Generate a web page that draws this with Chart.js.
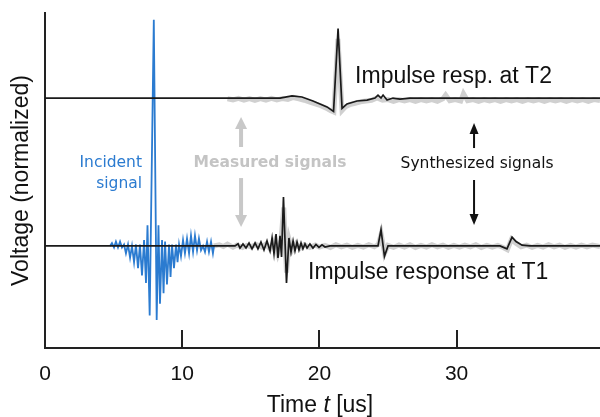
<!DOCTYPE html>
<html>
<head>
<meta charset="utf-8">
<script src="https://cdn.jsdelivr.net/npm/chart.js@4.4.1/dist/chart.umd.min.js"></script>
<style>
  html, body { margin: 0; padding: 0; background: #fff; }
  #wrap { width: 600px; height: 417px; position: relative; }
</style>
</head>
<body>
<div id="wrap"><canvas id="chart"></canvas></div>
<script>
// axis
var xTicks = [0, 10, 20, 30];
var xRange = [0, 40.45];
var yRange = [-0.69, 1.575];

// incident signal, sits on the T1 baseline  [time us, voltage]
var incidentSignal = [
  [4.74, 0], [4.88, 0.02], [5.03, -0.01], [5.17, 0.03], [5.32, -0.01], [5.47, 0.03],
  [5.61, -0.01], [5.76, 0.01], [5.9, -0.05], [6.05, 0.01], [6.2, -0.08], [6.34, 0],
  [6.49, -0.11], [6.63, 0.01], [6.78, -0.15], [6.92, 0.01], [7.07, -0.2], [7.22, 0.04],
  [7.36, -0.25], [7.47, 0.14], [7.63, -0.47], [7.93, 1.53], [8.14, -0.5], [8.27, 0.14],
  [8.38, -0.39], [8.53, 0.04], [8.64, -0.32], [8.75, 0.03], [8.89, -0.26], [9.04, 0.01],
  [9.15, -0.21], [9.26, 0.01], [9.4, -0.15], [9.55, 0.01], [9.66, -0.11], [9.77, 0.01],
  [9.91, -0.07], [10.06, 0.04], [10.2, -0.05], [10.35, 0.05], [10.5, -0.05], [10.64, 0.07],
  [10.79, -0.04], [10.93, 0.07], [11.08, -0.03], [11.22, 0.05], [11.37, -0.03], [11.52, 0],
  [11.66, -0.04], [11.81, 0.03], [11.95, -0.04], [12.1, 0.03], [12.24, -0.05], [12.32, 0]
];

// synthesized impulse response at T1
var synthT1 = [
  [0, 0], [13.85, 0], [14.07, 0.014], [14.21, -0.014], [14.43, 0.014], [14.65, -0.014],
  [14.87, 0.02], [15.09, -0.02], [15.31, 0.02], [15.52, -0.02], [15.74, 0.027], [15.96, -0.027],
  [16.18, 0.034], [16.4, -0.034], [16.55, 0.054], [16.69, -0.054], [16.84, 0.081], [16.98, -0.081],
  [17.13, 0.068], [17.24, -0.074], [17.38, 0.33], [17.6, -0.25], [17.78, 0.054], [17.93, -0.041],
  [18.08, 0.034], [18.22, -0.034], [18.37, 0.027], [18.51, -0.027], [18.66, 0.02], [18.8, -0.02],
  [18.95, 0.014], [19.1, -0.014], [19.31, 0.014], [19.53, -0.014], [19.75, 0.01], [19.97, -0.01],
  [20.19, 0.007], [20.41, -0.007], [20.77, 0], [24.27, 0], [24.49, 0.11], [24.74, -0.07],
  [25.0, 0], [33.16, 0], [33.67, -0.02], [34.04, 0.06], [34.33, 0.03], [34.77, 0.005],
  [35.35, 0], [40.45, 0]
];

// synthesized impulse response at T2 (offset by 1)
var synthT2 = [
  [0, 1], [17.13, 1], [18.0, 1.014], [18.73, 1.007], [19.53, 0.98], [20.55, 0.94],
  [21.03, 0.91], [21.36, 1.47], [21.65, 0.93], [22.01, 0.96], [22.74, 0.98], [23.47, 0.986],
  [24.05, 1.0], [24.27, 1.02], [24.49, 1.0], [24.64, 1.02], [24.93, 0.986], [25.36, 1.0],
  [25.87, 0.993], [26.6, 1.0], [40.45, 1.0]
];

// measured at T1 (gray)
var measT1 = [
  [12.3, 0], [12.7, 0.008], [13.0, -0.004], [13.3, 0.012], [13.7, -0.008], [14.0, 0.006],
  [14.4, -0.01], [14.7, 0.004], [15.0, -0.006], [15.4, 0.01], [15.8, -0.008], [16.1, 0.012],
  [16.4, -0.02], [16.7, 0.03], [16.95, -0.05], [17.2, 0.04], [17.4, 0.26], [17.6, -0.18],
  [17.8, 0.04], [18.0, -0.03], [18.3, 0.015], [18.6, -0.015], [18.9, 0.008], [19.3, -0.01],
  [19.7, 0.006], [20.0, -0.008], [20.4, 0.004], [20.8, -0.01], [21.2, 0.008], [21.6, -0.006],
  [22.0, 0.006], [22.4, -0.01], [22.8, 0.004], [23.2, -0.008], [23.6, 0.008], [24.0, -0.006],
  [24.3, 0.01], [24.5, 0.08], [24.75, -0.05], [25.0, 0.004], [25.4, -0.01], [25.8, 0.006],
  [26.2, -0.008], [26.6, 0.008], [27.0, -0.01], [27.4, 0.004], [27.8, -0.008], [28.2, 0.008],
  [28.6, -0.006], [29.0, 0.006], [29.4, -0.01], [29.8, 0.004], [30.2, -0.008], [30.6, 0.006],
  [31.0, -0.006], [31.4, 0.008], [31.8, -0.01], [32.2, 0.004], [32.6, -0.008], [33.0, 0.004],
  [33.4, -0.01], [33.7, -0.025], [34.0, 0.045], [34.3, 0.02], [34.7, -0.006], [35.1, 0.006],
  [35.5, -0.01], [35.9, 0.004], [36.3, -0.008], [36.7, 0.008], [37.1, -0.006], [37.5, 0.006],
  [37.9, -0.01], [38.3, 0.004], [38.7, -0.008], [39.1, 0.006], [39.5, -0.006], [39.9, 0.006],
  [40.45, -0.004]
];

// measured at T2 (gray)
var measT2 = [
  [13.3, 0.995], [13.7, 0.988], [14.1, 0.998], [14.5, 0.986], [14.9, 0.996], [15.3, 0.984],
  [15.7, 0.996], [16.1, 0.986], [16.5, 0.998], [16.9, 0.988], [17.3, 0.996], [17.7, 0.99],
  [18.1, 1.004], [18.5, 0.995], [18.9, 0.985], [19.3, 0.972], [19.7, 0.96], [20.1, 0.948],
  [20.5, 0.932], [20.8, 0.915], [21.05, 0.905], [21.35, 1.4], [21.65, 0.915], [21.9, 0.94],
  [22.2, 0.955], [22.6, 0.965], [23.0, 0.975], [23.4, 0.98], [23.8, 0.985], [24.2, 1.0],
  [24.6, 0.985], [25.0, 0.99], [25.4, 0.978], [25.8, 0.99], [26.2, 0.98], [26.6, 0.99],
  [27.0, 0.978], [27.4, 0.99], [27.8, 0.98], [28.2, 0.99], [28.6, 0.978], [29.0, 0.995],
  [29.2, 1.02], [29.5, 0.982], [29.9, 0.99], [30.3, 0.98], [30.5, 1.03], [30.8, 0.982],
  [31.2, 0.99], [31.6, 0.978], [32.0, 0.99], [32.4, 0.98], [32.8, 0.99], [33.2, 0.978],
  [33.6, 0.99], [34.0, 0.98], [34.4, 0.99], [34.8, 0.978], [35.2, 0.99], [35.6, 0.98],
  [36.0, 0.99], [36.4, 0.978], [36.8, 0.99], [37.2, 0.98], [37.6, 0.99], [38.0, 0.978],
  [38.4, 0.99], [38.8, 0.98], [39.2, 0.99], [39.6, 0.978], [40.0, 0.99], [40.45, 0.984]
];

function toPoints(arr) {
  var out = [];
  for (var i = 0; i < arr.length; i++) out.push({ x: arr[i][0], y: arr[i][1] });
  return out;
}

// text + arrows, placed in data units
var notes = [
  { text: "Impulse resp. at T2", t: 22.6, v: 1.142, align: "left", font: "23px 'Liberation Sans', Arial", color: "#111" },
  { text: "Impulse response at T1", t: 19.17, v: -0.182, align: "left", font: "23px 'Liberation Sans', Arial", color: "#111" },
  { text: "Synthesized signals", t: 31.49, v: 0.554, align: "center", font: "15.5px 'DejaVu Sans'", color: "#111" },
  { text: "Measured signals", t: 16.4, v: 0.561, align: "center", font: "bold 15.5px 'DejaVu Sans'", color: "#c4c4c4" },
  { text: "Incident", t: 7.07, v: 0.561, align: "right", font: "15.5px 'DejaVu Sans'", color: "#2b7bd0" },
  { text: "signal", t: 7.07, v: 0.419, align: "right", font: "15.5px 'DejaVu Sans'", color: "#2b7bd0" }
];
var arrows = [
  { t: 14.29, from: 0.669, to: 0.872, color: "#c8c8c8", w: 4, hw: 12, hl: 12 },
  { t: 14.29, from: 0.459, to: 0.128, color: "#c8c8c8", w: 4, hw: 12, hl: 12 },
  { t: 31.27, from: 0.662, to: 0.831, color: "#111", w: 2, hw: 9, hl: 11 },
  { t: 31.27, from: 0.446, to: 0.142, color: "#111", w: 2, hw: 9, hl: 11 }
];

var extras = {
  id: "extras",
  afterDatasetsDraw: function (chart) {
    var ctx = chart.ctx;
    var xs = chart.scales.x;
    var ys = chart.scales.y;
    var area = chart.chartArea;
    ctx.save();

    // inward ticks
    ctx.strokeStyle = "#222";
    ctx.lineWidth = 2;
    for (var i = 0; i < xTicks.length; i++) {
      if (xTicks[i] === 0) continue;
      var px = Math.round(xs.getPixelForValue(xTicks[i]));
      ctx.beginPath();
      ctx.moveTo(px, area.bottom);
      ctx.lineTo(px, area.bottom - 18);
      ctx.stroke();
    }

    // arrows
    for (var a = 0; a < arrows.length; a++) {
      var ar = arrows[a];
      var x = xs.getPixelForValue(ar.t);
      var y0 = ys.getPixelForValue(ar.from);
      var y1 = ys.getPixelForValue(ar.to);
      var dir = y1 < y0 ? -1 : 1;
      ctx.strokeStyle = ar.color;
      ctx.fillStyle = ar.color;
      ctx.lineWidth = ar.w;
      ctx.beginPath();
      ctx.moveTo(x, y0);
      ctx.lineTo(x, y1 - dir * ar.hl * 0.8);
      ctx.stroke();
      ctx.beginPath();
      ctx.moveTo(x, y1);
      ctx.lineTo(x - ar.hw / 2, y1 - dir * ar.hl);
      ctx.lineTo(x + ar.hw / 2, y1 - dir * ar.hl);
      ctx.closePath();
      ctx.fill();
    }

    // labels
    ctx.textBaseline = "middle";
    for (var n = 0; n < notes.length; n++) {
      var nt = notes[n];
      ctx.font = nt.font;
      ctx.fillStyle = nt.color;
      ctx.textAlign = nt.align;
      ctx.fillText(nt.text, xs.getPixelForValue(nt.t), ys.getPixelForValue(nt.v));
    }

    // x title with italic t
    var parts = [
      { s: "Time ", f: "23px 'Liberation Sans', Arial" },
      { s: "t", f: "italic 23px 'Liberation Sans', Arial" },
      { s: " [us]", f: "23px 'Liberation Sans', Arial" }
    ];
    var total = 0;
    for (var p = 0; p < parts.length; p++) {
      ctx.font = parts[p].f;
      parts[p].w = ctx.measureText(parts[p].s).width;
      total += parts[p].w;
    }
    var cx = 320 - total / 2;
    ctx.textAlign = "left";
    ctx.fillStyle = "#111";
    for (p = 0; p < parts.length; p++) {
      ctx.font = parts[p].f;
      ctx.fillText(parts[p].s, cx, 406);
      cx += parts[p].w;
    }
    ctx.restore();
  }
};

new Chart(document.getElementById("chart"), {
  type: "line",
  data: {
    datasets: [
      { label: "Synthesized T1", data: toPoints(synthT1), borderColor: "#1a1a1a", borderWidth: 1.7, order: 0 },
      { label: "Synthesized T2", data: toPoints(synthT2), borderColor: "#1a1a1a", borderWidth: 1.7, order: 0 },
      { label: "Incident", data: toPoints(incidentSignal), borderColor: "#2b7bd0", borderWidth: 1.8, order: 1 },
      { label: "Measured T1", data: toPoints(measT1), borderColor: "#d0d0d0", borderWidth: 5, order: 2 },
      { label: "Measured T2", data: toPoints(measT2), borderColor: "#d0d0d0", borderWidth: 5, order: 2 }
    ]
  },
  options: {
    responsive: true,
    maintainAspectRatio: false,
    animation: false,
    devicePixelRatio: 1,
    layout: { padding: { top: 13, right: 0, left: 0, bottom: 0 } },
    elements: { point: { radius: 0 }, line: { tension: 0, fill: false } },
    plugins: { legend: { display: false }, tooltip: { enabled: false } },
    scales: {
      x: {
        type: "linear",
        min: xRange[0],
        max: xRange[1],
        afterBuildTicks: function (scale) {
          scale.ticks = xTicks.map(function (v) { return { value: v }; });
        },
        afterFit: function (scale) { scale.height = 69; },
        grid: { display: false, drawTicks: false },
        border: { display: true, color: "#222", width: 2 },
        ticks: {
          color: "#111",
          padding: 16,
          maxRotation: 0,
          font: { family: "'Liberation Sans', Arial", size: 21, lineHeight: 1 }
        }
      },
      y: {
        type: "linear",
        min: yRange[0],
        max: yRange[1],
        afterFit: function (scale) { scale.width = 45; },
        grid: { display: false, drawTicks: false },
        border: { display: true, color: "#222", width: 2 },
        ticks: { display: false },
        title: {
          display: true,
          text: "Voltage (normalized)",
          color: "#111",
          padding: { top: 10, bottom: 0 },
          font: { family: "'Liberation Sans', Arial", size: 23, lineHeight: 1 }
        }
      }
    }
  },
  plugins: [extras]
});
</script>
</body>
</html>
